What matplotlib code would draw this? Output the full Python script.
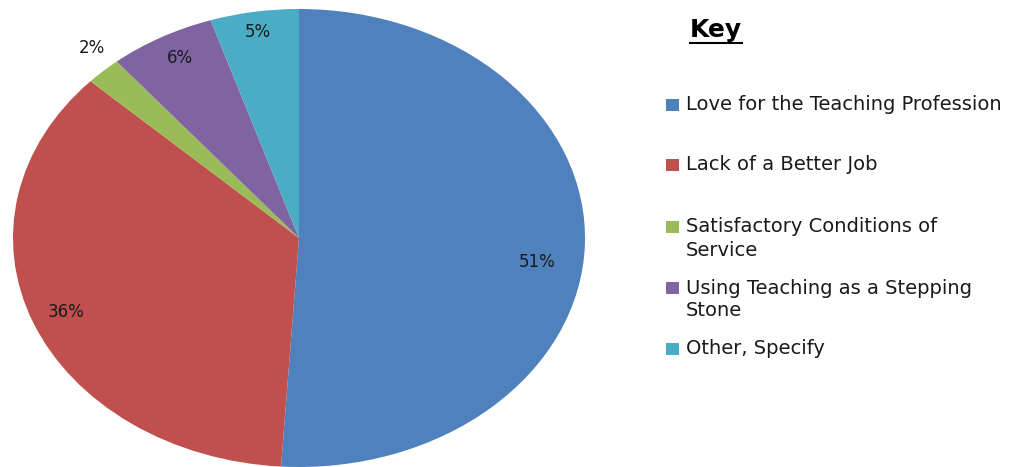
import matplotlib
matplotlib.use("Agg")
import matplotlib.pyplot as plt
from matplotlib.patches import Rectangle
from matplotlib.lines import Line2D
import numpy as np

plt.rcParams["font.family"] = ["DejaVu Sans"]

# data
labels = ["Love for the Teaching Profession", "Lack of a Better Job",
          "Satisfactory Conditions of\nService", "Using Teaching as a Stepping\nStone",
          "Other, Specify"]
values = [51, 36, 2, 6, 5]
colors = ["#4F81BD", "#C0504D", "#9BBB59", "#8064A2", "#4BACC6"]
# where excel put the percent labels: distance from centre and angle nudge (deg)
label_dist = [0.84, 0.875, 1.10, 0.89, 0.91]
label_nudge = [-5.4, 0, -2, -1, 0]

W, H = 1023, 467
fig = plt.figure(figsize=(W / 100, H / 100), dpi=100)
fig.patch.set_facecolor("white")

# pie axes stretched to an ellipse like the original
ax = fig.add_axes([13 / W, 0.0, 572 / W, 458 / H])
wedges, texts, autotexts = ax.pie(values, colors=colors, startangle=90, counterclock=False,
                                  autopct="%d%%", wedgeprops=dict(linewidth=0),
                                  textprops=dict(fontsize=12, color="#1a1a1a"))
ax.set_aspect("auto")
ax.set_xlim(-1, 1)
ax.set_ylim(-1, 1)

for w, t, d, n in zip(wedges, autotexts, label_dist, label_nudge):
    ang = np.deg2rad((w.theta1 + w.theta2) / 2 + n)
    t.set_position((d * np.cos(ang), d * np.sin(ang)))
    t.set_ha("center")
    t.set_va("center")

# key
key = fig.text(690 / W, 1 - 30 / H, "Key", fontsize=18, fontweight="bold", ha="left", va="center")
fig.canvas.draw()
bb = key.get_window_extent(fig.canvas.get_renderer())
fig.add_artist(Line2D([bb.x0 / W, bb.x1 / W], [(bb.y0 - 1) / H, (bb.y0 - 1) / H],
                      transform=fig.transFigure, color="black", lw=1.5))

row_y = [105, 165, 227, 288, 349]
line_gap = 23
for lab, c, y in zip(labels, colors, row_y):
    fig.add_artist(Rectangle((666 / W, 1 - (y + 6) / H), 13 / W, 12 / H,
                             transform=fig.transFigure, facecolor=c, edgecolor="none"))
    for i, part in enumerate(lab.split("\n")):
        fig.text(686 / W, 1 - (y + i * line_gap) / H, part, fontsize=14, color="#1a1a1a",
                 ha="left", va="center")

fig.savefig("out.png", dpi=100)
